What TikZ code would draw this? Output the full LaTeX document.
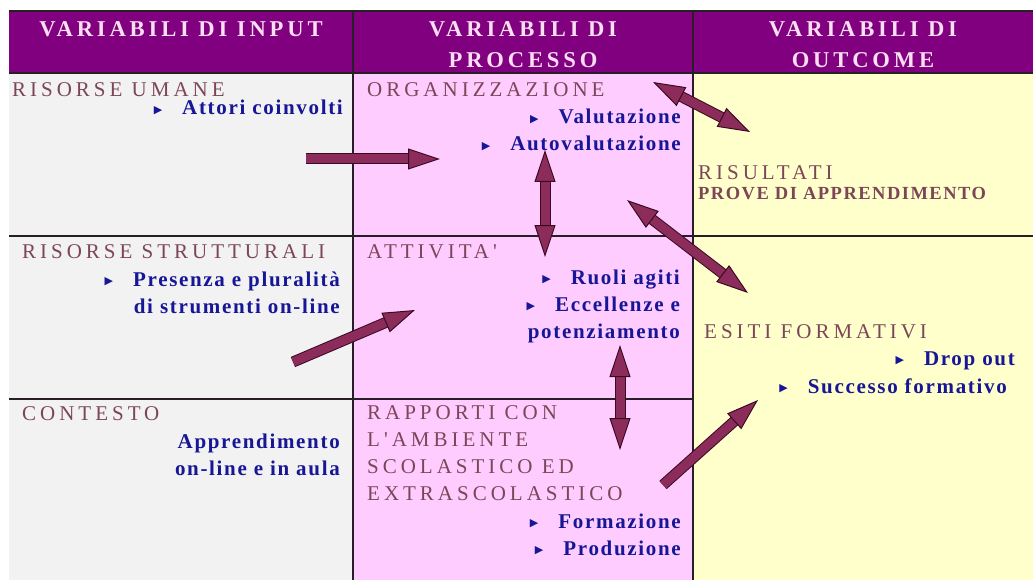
\documentclass[tikz,border=0pt]{standalone}
\usepackage{fontspec}
\setmainfont{Liberation Serif}
\newfontfamily\headfont[LetterSpace=17]{Liberation Serif}
\newfontfamily\titlefont[LetterSpace=19]{Liberation Serif}
\newfontfamily\itemfont[LetterSpace=8]{Liberation Serif}
\newfontfamily\bulletfont{DejaVu Sans}
\usepackage{tikz}
\usetikzlibrary{positioning}
\usetikzlibrary{arrows.meta}

\definecolor{headpurple}{RGB}{128,0,128}
\definecolor{headtext}{RGB}{250,222,242}
\definecolor{inputgray}{RGB}{242,242,242}
\definecolor{processpink}{RGB}{255,204,255}
\definecolor{outcomeyellow}{RGB}{255,255,204}
\definecolor{titlemauve}{RGB}{125,70,88}
\definecolor{itemblue}{RGB}{22,22,150}
\definecolor{arrowfill}{RGB}{140,44,90}
\definecolor{arrowedge}{RGB}{58,10,34}
\definecolor{gridline}{RGB}{40,30,40}

\newcommand{\bul}{\raisebox{1.5pt}{\bulletfont\fontsize{11}{11}\selectfont ▶}\hspace{20pt}}

\begin{document}
\begin{tikzpicture}[x=1pt, y=-1pt,
    head/.style={text=headtext, font=\headfont\bfseries\fontsize{22.6}{31}\selectfont, align=center, anchor=base, inner sep=0pt},
    title/.style={text=titlemauve, font=\titlefont\fontsize{21}{26.7}\selectfont, align=left, anchor=base west, inner sep=0pt},
    item/.style={text=itemblue, font=\itemfont\bfseries\fontsize{21}{27}\selectfont, align=right, anchor=base east, inner sep=0pt},
    link/.style={draw=arrowedge, line width=1pt, double=arrowfill, double distance=9pt, -{Triangle[length=32pt, width=21pt, fill=arrowfill]}},
    twolink/.style={link, {Triangle[length=32pt, width=21pt, fill=arrowfill]}-{Triangle[length=32pt, width=21pt, fill=arrowfill]}}]
  \useasboundingbox (0,0) rectangle (1033,580);

  \fill[headpurple] (9,11) rectangle (1033,73);
  \fill[inputgray] (9,73) rectangle (353,580);
  \fill[processpink] (353,73) rectangle (693,580);
  \fill[outcomeyellow] (693,73) rectangle (1033,580);

  \draw[gridline, line width=1.3pt] (9,11) -- (1033,11);
  \draw[gridline, line width=1.3pt] (9,73) -- (1033,73);
  \draw[gridline, line width=1.3pt] (9,236) -- (1033,236);
  \draw[gridline, line width=1.3pt] (9,399) -- (693,399);
  \draw[gridline, line width=1.3pt] (353,11) -- (353,580);
  \draw[gridline, line width=1.3pt] (693,11) -- (693,580);

  \node[head] at (181,37) (input-head) {VARIABILI DI INPUT};
  \node[head] at (523,68) (process-head) {VARIABILI DI\\PROCESSO};
  \node[head] at (863,68) (outcome-head) {VARIABILI DI\\OUTCOME};

  \node[title] at (12,97) (human) {RISORSE UMANE};
  \node[item] at (343,115) (human-items) {\bul Attori coinvolti};

  \node[title] at (367,97) (organisation) {ORGANIZZAZIONE};
  \node[item] at (681,151) (organisation-items) {\bul Valutazione\\\bul Autovalutazione};

  \node[title] at (698,180) (results) {RISULTATI};
  \node[title, font=\itemfont\bfseries\fontsize{18.5}{22}\selectfont] at (698,200) (results-tests) {PROVE DI APPRENDIMENTO};

  \node[title] at (22,258) (structures) {RISORSE STRUTTURALI};
  \node[item] at (340,313) (structures-items) {\bul Presenza e pluralità\\di strumenti on-line};

  \node[title] at (367,258) (activities) {ATTIVITA'};
  \node[item] at (680,338) (activities-items) {\bul Ruoli agiti\\\bul Eccellenze e\\potenziamento};

  \node[title] at (704,338) (outcomes) {ESITI FORMATIVI};
  \node[item] at (1015,365) (outcomes-items) {\bul Drop out};
  \node[item] at (1007,393) (outcomes-success) {\bul Successo formativo};

  \node[title] at (22,420) (context) {CONTESTO};
  \node[item] at (340,475) (context-items) {Apprendimento\\on-line e in aula};

  \node[title] at (367,500) (relations) {RAPPORTI CON\\L'AMBIENTE\\SCOLASTICO ED\\EXTRASCOLASTICO};
  \node[item] at (681,555) (relations-items) {\bul Formazione\\\bul Produzione};

  \coordinate (human-out) at (306,159);
  \coordinate (organisation-in) at (440,159);
  \coordinate (organisation-corner) at (653,82);
  \coordinate (results-in) at (750,132);
  \coordinate (organisation-low) at (545,150);
  \coordinate (activities-top) at (545,257);
  \coordinate (organisation-mid) at (627,200);
  \coordinate (outcomes-in) at (748,293);
  \coordinate (structures-out) at (293,362);
  \coordinate (activities-in) at (415,310);
  \coordinate (activities-low) at (620,345);
  \coordinate (relations-top) at (620,450);
  \coordinate (relations-out) at (663,485);
  \coordinate (success-in) at (758,400);

  \draw[link] (human-out) -- (organisation-in);
  \draw[twolink] (organisation-corner) -- (results-in);
  \draw[twolink] (organisation-low) -- (activities-top);
  \draw[twolink] (organisation-mid) -- (outcomes-in);
  \draw[link] (structures-out) -- (activities-in);
  \draw[twolink] (activities-low) -- (relations-top);
  \draw[link] (relations-out) -- (success-in);
\end{tikzpicture}
\end{document}
